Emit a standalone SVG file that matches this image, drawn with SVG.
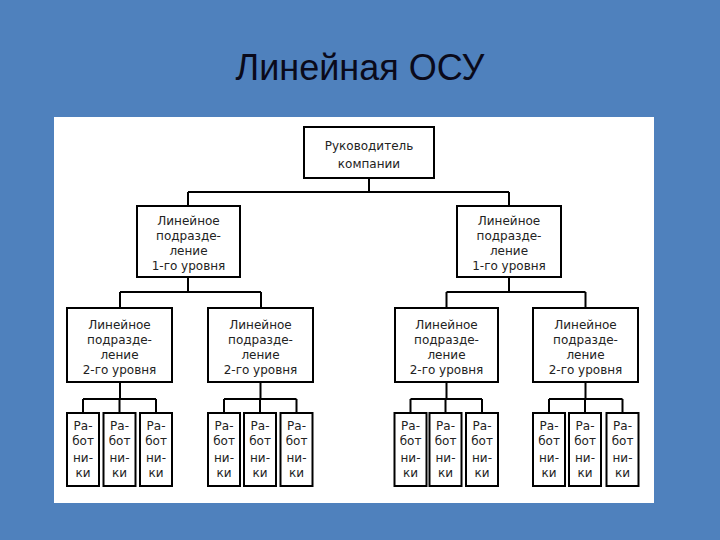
<svg xmlns="http://www.w3.org/2000/svg" width="720" height="540" viewBox="0 0 720 540">
<style>
.box{fill:#fff;stroke:#000;stroke-width:2}
.t{font-family:"DejaVu Sans",sans-serif;font-size:12px;fill:#222;text-anchor:middle}
.c{fill:none;stroke:#000;stroke-width:2}
</style>
<rect x="0" y="0" width="720" height="540" fill="#4f81bd"/>
<text x="360" y="80" font-family="'Liberation Sans',Arial,sans-serif" font-size="36" fill="#0a0a1a" text-anchor="middle">Линейная ОСУ</text>
<rect x="54" y="117" width="600" height="386" fill="#fff"/>
<g id="connectors">
<path class="c" d="M369 178V192M188 192H509M188 192V206M509 192V206"/>
<path class="c" d="M188 277V292M120 292H261M120 292V308M261 292V308"/>
<path class="c" d="M509 277V292M446.5 292H585.5M446.5 292V308M585.5 292V308"/>
<path class="c" d="M120 382V399M83 399H156M83 399V413M119.5 399V413M156 399V413"/>
<path class="c" d="M260.5 382V399M224 399H296.5M224 399V413M260 399V413M296.5 399V413"/>
<path class="c" d="M446.5 382V399M410.5 399H482M410.5 399V413M445.5 399V413M482 399V413"/>
<path class="c" d="M585.5 382V399M549 399H622.5M549 399V413M585 399V413M622.5 399V413"/>
</g>
<g id="head"><rect class="box" x="304" y="127" width="130" height="51"/><text class="t" x="369" y="150">Руководитель</text><text class="t" x="369" y="168">компании</text></g>
<g id="l1a"><rect class="box" x="137" y="206" width="103" height="71"/><text class="t" x="188.5" y="225">Линейное</text><text class="t" x="188.5" y="240">подразде-</text><text class="t" x="188.5" y="255">ление</text><text class="t" x="188.5" y="270">1-го уровня</text></g>
<g id="l1b"><rect class="box" x="457" y="206" width="104" height="71"/><text class="t" x="509" y="225">Линейное</text><text class="t" x="509" y="240">подразде-</text><text class="t" x="509" y="255">ление</text><text class="t" x="509" y="270">1-го уровня</text></g>
<g id="l2a"><rect class="box" x="67" y="308" width="105" height="74"/><text class="t" x="119.5" y="329">Линейное</text><text class="t" x="119.5" y="344">подразде-</text><text class="t" x="119.5" y="359">ление</text><text class="t" x="119.5" y="374">2-го уровня</text></g>
<g id="l2b"><rect class="box" x="208" y="308" width="105" height="74"/><text class="t" x="260.5" y="329">Линейное</text><text class="t" x="260.5" y="344">подразде-</text><text class="t" x="260.5" y="359">ление</text><text class="t" x="260.5" y="374">2-го уровня</text></g>
<g id="l2c"><rect class="box" x="395" y="308" width="103" height="74"/><text class="t" x="446.5" y="329">Линейное</text><text class="t" x="446.5" y="344">подразде-</text><text class="t" x="446.5" y="359">ление</text><text class="t" x="446.5" y="374">2-го уровня</text></g>
<g id="l2d"><rect class="box" x="533" y="308" width="105" height="74"/><text class="t" x="585.5" y="329">Линейное</text><text class="t" x="585.5" y="344">подразде-</text><text class="t" x="585.5" y="359">ление</text><text class="t" x="585.5" y="374">2-го уровня</text></g>
<defs>
<g id="w"><rect class="box" x="-16" y="413" width="32" height="73"/><text class="t" x="0" y="430">Ра-</text><text class="t" x="0" y="445">бот</text><text class="t" x="0" y="462">ни-</text><text class="t" x="0" y="477">ки</text></g>
</defs>
<g id="w1"><use href="#w" x="83"/></g>
<g id="w2"><use href="#w" x="119.5"/></g>
<g id="w3"><use href="#w" x="156"/></g>
<g id="w4"><use href="#w" x="224"/></g>
<g id="w5"><use href="#w" x="260"/></g>
<g id="w6"><use href="#w" x="296.5"/></g>
<g id="w7"><use href="#w" x="410.5"/></g>
<g id="w8"><use href="#w" x="445.5"/></g>
<g id="w9"><use href="#w" x="482"/></g>
<g id="w10"><use href="#w" x="549"/></g>
<g id="w11"><use href="#w" x="585"/></g>
<g id="w12"><use href="#w" x="622.5"/></g>
</svg>
